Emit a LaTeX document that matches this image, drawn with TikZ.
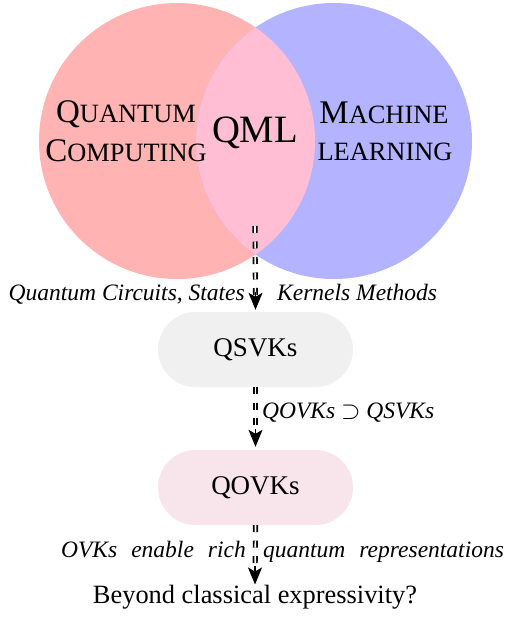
\documentclass[tikz,border=0pt]{standalone}
\usepackage{fontspec}
\setmainfont{Liberation Serif}
\usetikzlibrary{arrows.meta,shapes.misc}
\definecolor{cred}{RGB}{255,179,179}
\definecolor{cblue}{RGB}{179,179,255}
\definecolor{clens}{RGB}{255,190,212}
\definecolor{cgray}{RGB}{240,240,240}
\definecolor{cpink}{RGB}{248,229,235}
\newcommand{\fakesc}[2]{#1{\fontsize{26.4pt}{30pt}\selectfont #2}}
\tikzset{
  venn/.style={font=\fontsize{33pt}{40pt}\selectfont, inner sep=0pt, anchor=base},
  pill/.style={rounded rectangle, minimum width=195pt, minimum height=75pt, inner sep=0pt, font=\fontsize{27pt}{32pt}\selectfont},
  lbl/.style={font=\fontsize{23.5pt}{28pt}\selectfont\itshape, inner sep=0pt},
  dbl/.style={draw=black, line width=1.7pt, double=white, double distance=1.7pt, dash pattern=on 7pt off 8.5pt},
  tipst/.style={-{Stealth[length=17pt,width=14pt,inset=4pt]}, line width=1.2pt}
}
\begin{document}
\begin{tikzpicture}[x=1pt,y=-1pt]
\useasboundingbox (0,0) rectangle (509,623);
\fill[cred] (177,141) circle[radius=138pt];
\fill[cblue] (334,141) circle[radius=138pt];
\begin{scope}
  \clip (177,141) circle[radius=138pt];
  \fill[clens] (334,141) circle[radius=138pt];
\end{scope}
\node[venn] (qc1) at (126,122) {\fakesc{Q}{UANTUM}};
\node[venn] (qc2) at (126,161) {\fakesc{C}{OMPUTING}};
\node[venn] (ml1) at (384,124) {\fakesc{M}{ACHINE}};
\node[venn] (ml2) at (385,160) {\fakesc{}{LEARNING}};
\node[venn, font=\fontsize{38.7pt}{44pt}\selectfont] (qml) at (255,142) {QML};

\node[pill, fill=cgray] (qsvk) at (255.5,349.5) {QSVKs};
\node[pill, fill=cpink] (qovk) at (255.5,487.5) {QOVKs};
\node[inner sep=0pt, anchor=base, font=\fontsize{26.4pt}{32pt}\selectfont] (beyond) at (255,603) {Beyond classical expressivity?};

\node[lbl, anchor=base east] (l1a) at (245,300) {Quantum Circuits, States};
\node[lbl, anchor=base west] (l1b) at (277,300) {Kernels Methods};
\node[lbl, anchor=base west] (l2) at (262,418) {QOVKs $\supset$ QSVKs};
\node[lbl, anchor=base east] (l3a) at (246,557) {OVKs\hspace{14pt}enable\hspace{14pt}rich};
\node[lbl, anchor=base west] (l3b) at (263,557) {quantum\hspace{14pt}representations};

\coordinate (a1s) at (255,226);
\draw[dbl, shorten >=12pt] (a1s) -- ([yshift=2pt]qsvk.north);
\draw[tipst] ([yshift=20pt]qsvk.north) -- ([yshift=2pt]qsvk.north);
\draw[dbl, shorten >=12pt] (qsvk.south) -- ([yshift=3pt]qovk.north);
\draw[tipst] ([yshift=21pt]qovk.north) -- ([yshift=3pt]qovk.north);
\draw[dbl, shorten >=12pt] (qovk.south) -- (beyond.north);
\draw[tipst] ([yshift=18pt]beyond.north) -- (beyond.north);
\end{tikzpicture}
\end{document}
